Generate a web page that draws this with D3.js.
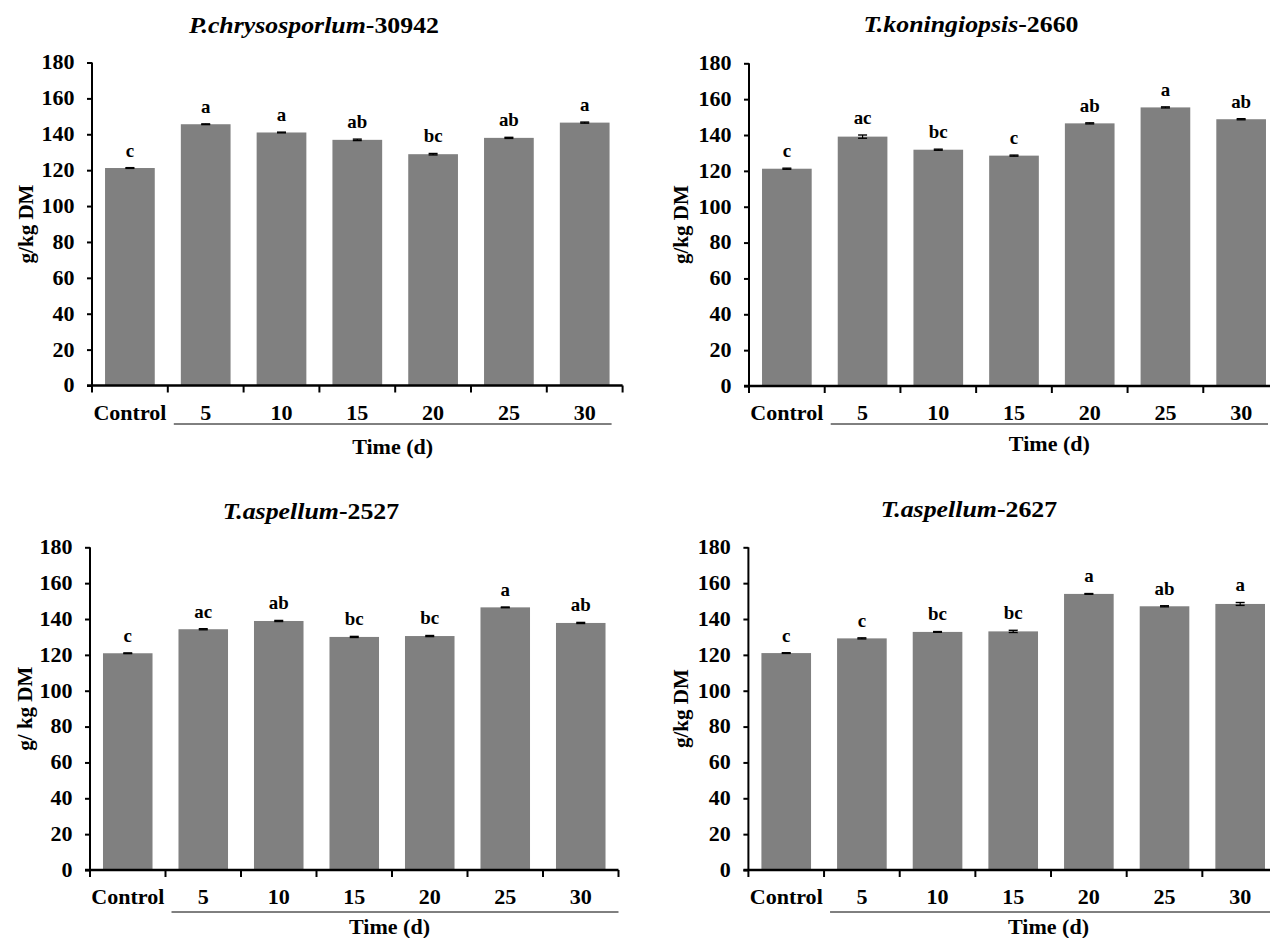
<!DOCTYPE html>
<html>
<head>
<meta charset="utf-8">
<script src="https://cdn.jsdelivr.net/npm/d3@7"></script>
<style>
  html, body { margin: 0; padding: 0; background: #fff; }
  svg { display: block; }
</style>
</head>
<body>
<svg id="chart" width="1270" height="938"></svg>
<script>
// Sampling times (days) shared by all four strains
const categories = ["Control", "5", "10", "15", "20", "25", "30"];
const yTicks = [0, 20, 40, 60, 80, 100, 120, 140, 160, 180];

// Strain names (italic part) and culture numbers
const strainNames = ["P.chrysosporlum", "T.koningiopsis", "T.aspellum", "T.aspellum"];
const strainIds = ["30942", "2660", "2527", "2627"];
const yTitles = ["g/kg DM", "g/kg DM", "g/ kg DM", "g/kg DM"];

// Mean content (g/kg DM) per sampling time
const valuesP30942 = [121.2, 145.6, 141.0, 136.9, 128.9, 138.0, 146.5];
const valuesT2660  = [121.2, 139.1, 131.8, 128.5, 146.5, 155.4, 148.8];
const valuesT2527  = [120.9, 134.3, 138.9, 130.0, 130.5, 146.5, 137.8];
const valuesT2627  = [121.0, 129.2, 132.8, 133.1, 154.0, 147.1, 148.4];

// Standard errors
const errP30942 = [0.2, 0.2, 0.2, 0.4, 0.4, 0.3, 0.3];
const errT2660  = [0.3, 0.9, 0.3, 0.3, 0.3, 0.3, 0.3];
const errT2527  = [0.2, 0.3, 0.3, 0.3, 0.3, 0.2, 0.3];
const errT2627  = [0.2, 0.3, 0.2, 0.6, 0.2, 0.3, 0.8];

// Significance letters
const lettersP30942 = ["c", "a", "a", "ab", "bc", "ab", "a"];
const lettersT2660  = ["c", "ac", "bc", "c", "ab", "a", "ab"];
const lettersT2527  = ["c", "ac", "ab", "bc", "bc", "a", "ab"];
const lettersT2627  = ["c", "c", "bc", "bc", "a", "ab", "a"];

const seriesValues = [valuesP30942, valuesT2660, valuesT2527, valuesT2627];
const seriesErrors = [errP30942, errT2660, errT2527, errT2627];
const seriesLetters = [lettersP30942, lettersT2660, lettersT2527, lettersT2627];

const FONT = "'Liberation Serif', 'Times New Roman', Times, serif";

// Panel frames
const frames = [
  { left: 92,  right: 622.6, top: 62.5, bottom: 385.5, tx: 314, ty: 24,  ylx: 26,  catY: 413, ulY: 424, ulEnd: 11, timeY: 447 },
  { left: 749, right: 1279,  top: 63.3, bottom: 386,   tx: 971, ty: 23,  ylx: 681, catY: 413, ulY: 424, ulEnd: 11, timeY: 444 },
  { left: 90,  right: 618.5, top: 547.3, bottom: 870,  tx: 311, ty: 510, ylx: 25,  catY: 897, ulY: 912, ulEnd: 0,  timeY: 927 },
  { left: 748.4, right: 1278, top: 547.3, bottom: 870, tx: 969, ty: 508, ylx: 681, catY: 897, ulY: 912, ulEnd: 0,  timeY: 927 }
];

const svg = d3.select("#chart");

// Bold serif label centred on (x, y), slightly widened by sx
function label(g, x, y, txt, size, sx = 1, anchor = "middle") {
  return g.append("text")
    .attr("transform", `translate(${x},${y}) scale(${sx},1)`)
    .attr("text-anchor", anchor).attr("dominant-baseline", "central")
    .attr("font-family", FONT).attr("font-weight", "bold").attr("font-size", size)
    .attr("fill", "#000").text(txt);
}

frames.forEach((f, i) => {
  const vals = seriesValues[i], errs = seriesErrors[i], lets = seriesLetters[i];
  const g = svg.append("g");

  const x = d3.scaleBand().domain(categories).range([f.left, f.right])
    .paddingInner(0.344).paddingOuter(0.172);
  const y = d3.scaleLinear().domain([0, 180]).range([f.bottom, f.top]);

  // Title
  const title = label(g, f.tx, f.ty, null, 23.5, 1.1);
  title.append("tspan").attr("font-style", "italic").text(strainNames[i]);
  title.append("tspan").text("-" + strainIds[i]);

  // Bars
  g.selectAll("rect.bar").data(categories).join("rect").attr("class", "bar")
    .attr("x", d => x(d)).attr("width", x.bandwidth())
    .attr("y", (d, k) => y(vals[k])).attr("height", (d, k) => y(0) - y(vals[k]))
    .attr("fill", "#808080");

  // Error bars and significance letters
  const cap = 4.5;
  categories.forEach((c, k) => {
    const cx = x(c) + x.bandwidth() / 2;
    const y1 = y(vals[k] + errs[k]), y2 = y(vals[k] - errs[k]);
    g.append("line").attr("x1", cx).attr("x2", cx).attr("y1", y1).attr("y2", y2)
      .attr("stroke", "#000").attr("stroke-width", 1.2);
    [y1, y2].forEach(yy => g.append("line").attr("x1", cx - cap).attr("x2", cx + cap)
      .attr("y1", yy).attr("y2", yy).attr("stroke", "#000").attr("stroke-width", 1.4));
    label(g, cx, y1 - 17, lets[k], 18, 1.05);
  });

  // Y axis
  const yAxis = d3.axisLeft(y).tickValues(yTicks).tickSize(5).tickPadding(11).tickFormat(d3.format("d"));
  const ya = g.append("g").attr("transform", `translate(${f.left},0)`).call(yAxis);
  ya.attr("font-family", FONT).attr("font-size", 20).attr("font-weight", "bold");
  ya.select(".domain").attr("d", `M0,${f.top}V${f.bottom}`).attr("stroke-width", 2);
  ya.selectAll(".tick line").attr("stroke-width", 2);
  ya.selectAll(".tick text").attr("fill", "#000").attr("transform", "scale(1.1,1)");

  // X axis line with ticks at category boundaries
  const step = x.step();
  const gap = (step - x.bandwidth()) / 2;
  const bounds = categories.map(c => x(c) - gap).concat([x(categories[categories.length - 1]) + x.bandwidth() + gap]);
  g.append("line").attr("x1", f.left - 5).attr("x2", bounds[bounds.length - 1])
    .attr("y1", f.bottom).attr("y2", f.bottom).attr("stroke", "#000").attr("stroke-width", 2.5);
  bounds.forEach(bx => g.append("line").attr("x1", bx).attr("x2", bx)
    .attr("y1", f.bottom).attr("y2", f.bottom + 7).attr("stroke", "#000").attr("stroke-width", 2));

  // Category labels
  categories.forEach(c => label(g, x(c) + x.bandwidth() / 2, f.catY, c, 21, 1.05));

  // Line grouping the time points
  const ulStart = bounds[1] + 6, ulEnd = bounds[bounds.length - 1] - f.ulEnd;
  g.append("line").attr("x1", ulStart).attr("x2", ulEnd).attr("y1", f.ulY).attr("y2", f.ulY)
    .attr("stroke", "#000").attr("stroke-width", 1);
  label(g, (bounds[1] + 6 + bounds[bounds.length - 1] - 11) / 2, f.timeY, "Time (d)", 21, 1.05);

  // Y axis title
  g.append("text")
    .attr("transform", `translate(${f.ylx},${(f.top + f.bottom) / 2}) rotate(-90)`)
    .attr("text-anchor", "middle").attr("dominant-baseline", "central")
    .attr("font-family", FONT).attr("font-weight", "bold").attr("font-size", 21)
    .attr("fill", "#000").text(yTitles[i]);
});
</script>
</body>
</html>
